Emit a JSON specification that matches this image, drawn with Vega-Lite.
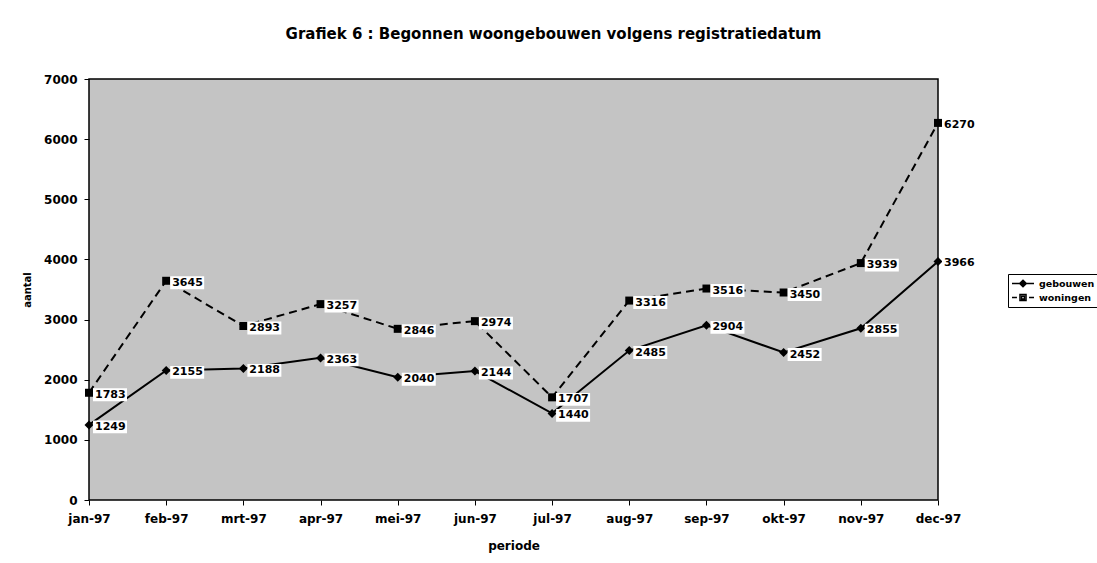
{
  "$schema": "https://vega.github.io/schema/vega-lite/v6.json",
  "width": 849,
  "height": 421,
  "autosize": {"type": "none"},
  "padding": {"left": 89, "top": 79, "right": 159, "bottom": 63},
  "background": "white",
  "title": {"text": "Grafiek 6 : Begonnen woongebouwen volgens registratiedatum", "font": "DejaVu Sans", "fontSize": 15, "fontWeight": "bold", "color": "black", "anchor": "middle", "dx": 40, "offset": 31},
  "config": {"view": {"fill": "#c4c4c4", "stroke": "black", "strokeWidth": 1.5}, "font": "DejaVu Sans"},
  "data": {"values": [
    {"periode": "jan-97", "reeks": "gebouwen", "aantal": 1249},
    {"periode": "feb-97", "reeks": "gebouwen", "aantal": 2155},
    {"periode": "mrt-97", "reeks": "gebouwen", "aantal": 2188},
    {"periode": "apr-97", "reeks": "gebouwen", "aantal": 2363},
    {"periode": "mei-97", "reeks": "gebouwen", "aantal": 2040},
    {"periode": "jun-97", "reeks": "gebouwen", "aantal": 2144},
    {"periode": "jul-97", "reeks": "gebouwen", "aantal": 1440},
    {"periode": "aug-97", "reeks": "gebouwen", "aantal": 2485},
    {"periode": "sep-97", "reeks": "gebouwen", "aantal": 2904},
    {"periode": "okt-97", "reeks": "gebouwen", "aantal": 2452},
    {"periode": "nov-97", "reeks": "gebouwen", "aantal": 2855},
    {"periode": "dec-97", "reeks": "gebouwen", "aantal": 3966},
    {"periode": "jan-97", "reeks": "woningen", "aantal": 1783},
    {"periode": "feb-97", "reeks": "woningen", "aantal": 3645},
    {"periode": "mrt-97", "reeks": "woningen", "aantal": 2893},
    {"periode": "apr-97", "reeks": "woningen", "aantal": 3257},
    {"periode": "mei-97", "reeks": "woningen", "aantal": 2846},
    {"periode": "jun-97", "reeks": "woningen", "aantal": 2974},
    {"periode": "jul-97", "reeks": "woningen", "aantal": 1707},
    {"periode": "aug-97", "reeks": "woningen", "aantal": 3316},
    {"periode": "sep-97", "reeks": "woningen", "aantal": 3516},
    {"periode": "okt-97", "reeks": "woningen", "aantal": 3450},
    {"periode": "nov-97", "reeks": "woningen", "aantal": 3939},
    {"periode": "dec-97", "reeks": "woningen", "aantal": 6270}
  ]},
  "encoding": {
    "x": {"field": "periode", "type": "ordinal", "sort": null, "scale": {"type": "point", "padding": 0},
      "axis": {"title": "periode", "labelAngle": 0, "labelFontSize": 12, "labelFontWeight": "bold", "labelColor": "black", "labelPadding": 8, "tickSize": 5, "tickColor": "black", "domain": false, "grid": false, "titleFontSize": 12, "titleFontWeight": "bold", "titleColor": "black", "titlePadding": 16}},
    "y": {"field": "aantal", "type": "quantitative", "scale": {"domain": [0, 7000]},
      "axis": {"title": "aantal", "values": [0, 1000, 2000, 3000, 4000, 5000, 6000, 7000], "format": "d", "labelFontSize": 12, "labelFontWeight": "bold", "labelColor": "black", "labelPadding": 7, "tickSize": 5, "tickColor": "black", "domain": false, "grid": false, "titleFontSize": 10, "titleFontWeight": "bold", "titleColor": "black", "titlePadding": 11}}
  },
  "layer": [
    {"transform": [{"filter": "datum.reeks === 'gebouwen'"}],
     "mark": {"type": "line", "color": "black", "strokeWidth": 2}, "encoding": {}},
    {"transform": [{"filter": "datum.reeks === 'woningen'"}],
     "mark": {"type": "line", "color": "black", "strokeWidth": 2, "strokeDash": [8, 5]}, "encoding": {}},
    {"transform": [{"filter": "datum.reeks === 'gebouwen'"}],
     "mark": {"type": "point", "shape": "diamond", "filled": true, "color": "black", "size": 81, "opacity": 1}},
    {"transform": [{"filter": "datum.reeks === 'woningen'"}],
     "mark": {"type": "point", "shape": "square", "filled": true, "color": "black", "size": 64, "opacity": 1}},
    {"mark": {"type": "point", "shape": "M-1,-0.38H1V0.38H-1Z", "filled": true, "color": "white", "size": 1156, "xOffset": 21, "yOffset": 2, "opacity": 1}},
    {"mark": {"type": "text", "align": "left", "baseline": "middle", "dx": 6, "dy": 2, "fontSize": 11, "fontWeight": "bold", "color": "black"},
     "encoding": {"text": {"field": "aantal", "type": "quantitative", "format": "d"}}},
    {"mark": {"type": "point", "filled": false, "color": "black", "strokeWidth": 1.5, "opacity": 0},
     "encoding": {"shape": {"field": "reeks", "type": "nominal",
       "scale": {"domain": ["gebouwen", "woningen"], "range": ["M-1,0H3M1,-0.6L1.6,0L1,0.6L0.4,0ZM1,-0.3L1.3,0L1,0.3L0.7,0Z", "M-1,0H-0.1M2.1,0H3M0.45,-0.55H1.55V0.55H0.45ZM0.75,-0.25H1.25V0.25H0.75Z"]},
       "legend": {"title": null, "orient": "none", "legendX": 919, "legendY": 195, "strokeColor": "black", "fillColor": "white", "padding": 3, "cornerRadius": 0, "labelFontSize": 9.5, "labelFontWeight": "bold", "labelColor": "black", "labelOffset": 15, "symbolSize": 121, "symbolOpacity": 1, "symbolFillColor": "black", "symbolStrokeColor": "black", "symbolStrokeWidth": 1.5, "rowPadding": 1}}}}
  ]
}
